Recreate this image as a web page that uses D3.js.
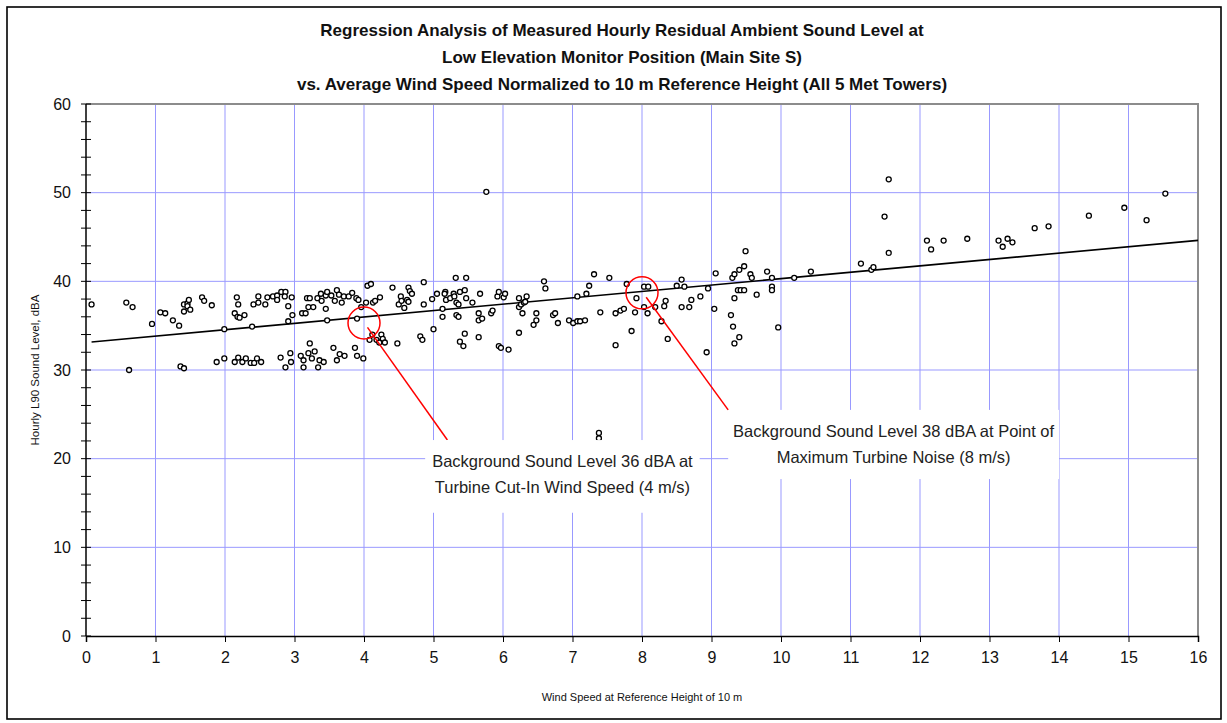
<!DOCTYPE html>
<html>
<head>
<meta charset="utf-8">
<script src="https://cdn.jsdelivr.net/npm/d3@7"></script>
<style>
body { margin: 0; background: #fff; }
svg { display: block; font-family: "Liberation Sans", Arial, sans-serif; }
</style>
</head>
<body>
<svg></svg>
<script>
"use strict";

var titleLines = [
  "Regression Analysis of Measured Hourly Residual Ambient Sound Level at",
  "Low Elevation Monitor Position (Main Site S)",
  "vs. Average Wind Speed Normalized to 10 m Reference Height (All 5 Met Towers)"
];
var xLabel = "Wind Speed at Reference Height of 10 m";
var yLabel = "Hourly L90 Sound Level, dBA";

var xTicks = d3.range(0, 17, 1);
var yTicks = [0, 10, 20, 30, 40, 50, 60];
var yMinorTicks = d3.range(0, 61, 2);

// [wind speed m/s, L90 dBA]
var readings = [
  [0.08,37.4],[0.58,37.6],[0.67,37.1],[0.62,30.0],[0.95,35.2],[1.07,36.5],[1.14,36.4],[1.25,35.6],
  [1.34,35.0],[1.36,30.4],[1.41,30.2],[1.41,36.6],[1.41,37.4],[1.46,37.5],[1.48,37.9],[1.46,37.2],
  [1.50,36.8],[1.67,38.2],[1.70,37.8],[1.81,37.3],[1.88,30.9],[1.99,31.3],[1.99,34.6],[2.14,36.4],
  [2.17,38.2],[2.19,37.4],[2.18,36.0],[2.21,35.9],[2.14,30.9],[2.19,31.4],[2.25,30.9],[2.28,36.2],
  [2.30,31.3],[2.37,30.8],[2.39,34.9],[2.41,37.4],[2.42,30.8],[2.46,31.3],[2.48,38.3],[2.48,37.6],
  [2.52,30.9],[2.58,37.4],[2.61,38.2],[2.69,38.3],[2.75,38.4],[2.75,37.9],[2.81,38.8],[2.87,38.8],
  [2.86,38.3],[2.91,37.2],[2.91,35.5],[2.97,36.2],[2.96,38.2],[2.80,31.4],[2.87,30.3],[2.94,31.9],
  [2.95,30.9],[3.11,36.4],[3.16,36.4],[3.18,38.1],[3.22,38.1],[3.20,37.1],[3.27,37.1],[3.09,31.6],
  [3.13,31.1],[3.13,30.3],[3.20,31.9],[3.22,33.0],[3.25,31.3],[3.29,32.1],[3.34,30.3],[3.36,31.1],
  [3.42,30.9],[3.33,38.1],[3.38,38.6],[3.39,37.8],[3.45,38.4],[3.47,38.8],[3.45,36.9],[3.47,35.6],
  [3.56,32.5],[3.53,38.4],[3.58,37.8],[3.61,39.0],[3.61,31.1],[3.64,38.5],[3.68,37.6],[3.65,31.8],
  [3.72,31.6],[3.71,38.3],[3.78,38.3],[3.83,38.7],[3.89,38.1],[3.87,32.5],[3.90,31.6],[3.92,37.9],
  [3.90,35.8],[3.96,37.1],[3.99,31.3],[4.03,37.6],[4.05,39.5],[4.10,39.7],[4.08,33.4],[4.13,37.6],
  [4.16,37.8],[4.12,34.0],[4.18,33.4],[4.23,38.2],[4.25,34.0],[4.27,33.5],[4.30,33.1],[4.22,33.1],
  [4.41,39.3],[4.48,33.0],[4.50,37.4],[4.53,38.3],[4.54,37.8],[4.58,37.0],[4.62,37.9],[4.64,39.3],
  [4.66,38.9],[4.69,38.6],[4.64,37.7],[4.81,33.8],[4.84,33.4],[4.86,39.9],[4.86,37.4],[5.00,34.6],
  [4.98,38.0],[5.05,38.6],
  [5.13,36.9],[5.13,36.0],[5.17,38.8],[5.16,38.6],[5.18,37.9],[5.24,38.1],[5.29,38.6],[5.30,38.3],
  [5.32,40.4],[5.33,37.6],[5.36,37.4],[5.33,36.2],[5.36,36.0],[5.38,38.8],[5.45,39.0],[5.47,40.4],
  [5.47,38.1],[5.45,34.1],[5.38,33.2],[5.43,32.7],[5.56,37.6],[5.65,36.4],[5.67,38.6],[5.65,35.6],
  [5.70,35.8],[5.65,33.7],[5.76,50.1],[5.83,36.4],[5.85,36.7],[5.92,38.3],[5.94,38.8],[6.01,38.2],
  [6.03,38.6],[5.94,32.7],[5.97,32.5],[6.08,32.3],[6.23,38.1],[6.23,37.1],[6.26,37.4],[6.28,36.4],
  [6.30,37.6],[6.32,37.7],[6.34,38.3],[6.23,34.2],[6.44,35.1],[6.48,35.6],[6.48,36.4],[6.59,40.0],
  [6.61,39.2],[6.72,36.2],[6.75,36.4],[6.79,35.3],[6.95,35.6],[7.01,35.3],[7.07,35.5],[7.11,35.5],
  [7.18,35.6],[7.07,38.3],[7.20,38.6],[7.24,39.5],[7.31,40.8],[7.40,36.5],[7.53,40.4],[7.62,36.4],
  [7.69,36.7],[7.74,36.9],[7.62,32.8],[7.85,34.4],[7.78,39.7],[7.92,38.1],[7.90,36.5],[8.03,39.4],
  [8.09,39.4],[8.03,37.1],[8.08,36.4],[8.19,37.1],[8.28,35.5],[8.32,37.2],[8.34,37.8],[8.37,33.5],
  [8.50,39.5],[8.57,40.2],[8.61,39.4],[8.57,37.1],[8.68,37.1],[8.71,37.9],[8.84,38.3],[8.93,32.0],
  [8.95,39.2],[9.04,36.9],[9.06,40.9],[9.28,36.2],[9.31,34.9],[9.33,33.0],[9.40,33.7],[9.33,38.1],
  [9.30,40.4],[9.33,40.8],[9.40,41.3],[9.38,39.0],[9.42,39.0],[9.47,39.0],[9.47,41.7],[9.49,43.4],
  [9.56,40.8],[9.58,40.4],[9.65,38.5],[9.80,41.1],[9.87,40.4],[9.87,39.4],[9.87,39.0],[9.96,34.8],
  [10.19,40.4],[7.38,22.9],[7.38,22.3],
  [10.43,41.1],[11.15,42.0],[11.30,41.3],[11.33,41.6],[11.49,47.3],[11.55,51.5],[11.55,43.2],
  [12.10,44.6],[12.16,43.6],[12.34,44.6],[12.68,44.8],[13.13,44.6],[13.19,43.9],[13.26,44.8],
  [13.33,44.4],[13.65,46.0],[13.85,46.2],[14.43,47.4],[14.94,48.3],[15.26,46.9],[15.53,49.9]
];

// linear fit: L90 = a + b * ws
var trendRange = [0.08, 16];
var trendCoef = [33.1, 0.72];

var notes = [
  { mark: [4, 35.3], from: [4.05, 34.8], to: [5.2, 22.1], box: [4.88, 22.1, 8.83, 13.9],
    text: ["Background Sound Level 36 dBA at", "Turbine Cut-In Wind Speed (4 m/s)"] },
  { mark: [8, 38.7], from: [8.06, 38.2], to: [9.24, 25.5], box: [9.24, 25.5, 14.0, 17.7],
    text: ["Background Sound Level 38 dBA at Point of", "Maximum Turbine Noise (8 m/s)"] }
];

var svg = d3.select("svg").attr("width", 1227).attr("height", 723);

var x = d3.scaleLinear().domain([0, 16]).range([86, 1198]);
var y = d3.scaleLinear().domain([0, 60]).range([636, 104]);

var grid = "#9999ff";

// outer frame
svg.append("rect").attr("x", 7).attr("y", 7).attr("width", 1214).attr("height", 712)
  .attr("fill", "none").attr("stroke", "#000").attr("stroke-width", 1.6);

// title
svg.append("g").selectAll("text").data(titleLines).enter().append("text")
  .attr("x", 622).attr("y", function (d, i) { return 36 + i * 27; })
  .attr("text-anchor", "middle").attr("font-weight", "bold").attr("font-size", 17)
  .attr("fill", "#111").text(function (d) { return d; });

// grid
svg.append("g").selectAll("line").data(xTicks.slice(1, -1)).enter().append("line")
  .attr("x1", x).attr("x2", x).attr("y1", y(60)).attr("y2", y(0))
  .attr("stroke", grid).attr("stroke-width", 1);
svg.append("g").selectAll("line").data(yTicks.slice(1, -1)).enter().append("line")
  .attr("y1", y).attr("y2", y).attr("x1", x(0)).attr("x2", x(16))
  .attr("stroke", grid).attr("stroke-width", 1);

// plot frame top/right
svg.append("path")
  .attr("d", "M" + x(0) + "," + y(60) + "H" + x(16) + "V" + y(0))
  .attr("fill", "none").attr("stroke", "#8c8c8c").attr("stroke-width", 2);

// x axis
var xAxis = svg.append("g").attr("transform", "translate(0," + y(0) + ")")
  .call(d3.axisBottom(x).tickValues(xTicks).tickSize(6).tickPadding(10).tickFormat(d3.format("d")));
xAxis.select(".domain").attr("stroke", "#000").attr("stroke-width", 1.5);
xAxis.selectAll("text").attr("font-size", 16).attr("font-family", "Liberation Sans, Arial, sans-serif").attr("fill", "#111");

// y axis (ticks straddle the line)
var yAxis = svg.append("g").attr("transform", "translate(" + x(0) + ",0)");
yAxis.selectAll("line.minor").data(yMinorTicks).enter().append("line")
  .attr("class", "minor").attr("x1", -5).attr("x2", 5).attr("y1", y).attr("y2", y)
  .attr("stroke", "#000").attr("stroke-width", 1);
yAxis.append("line").attr("y1", y(0)).attr("y2", y(60)).attr("stroke", "#000").attr("stroke-width", 1.5);
yAxis.selectAll("text").data(yTicks).enter().append("text")
  .attr("x", -15).attr("y", y).attr("dy", "0.35em").attr("text-anchor", "end")
  .attr("font-size", 16).attr("fill", "#111").text(function (d) { return d; });

// axis titles
svg.append("text").attr("x", x(8)).attr("y", 701).attr("text-anchor", "middle")
  .attr("font-size", 11).attr("fill", "#111").text(xLabel);
svg.append("text").attr("transform", "translate(39," + y(30) + ") rotate(-90)")
  .attr("text-anchor", "middle").attr("font-size", 11.5).attr("fill", "#111").text(yLabel);

// trend line
svg.append("line")
  .attr("x1", x(trendRange[0])).attr("y1", y(trendCoef[0] + trendCoef[1] * trendRange[0]))
  .attr("x2", x(trendRange[1])).attr("y2", y(trendCoef[0] + trendCoef[1] * trendRange[1]))
  .attr("stroke", "#000").attr("stroke-width", 1.6);

// readings
svg.append("g").selectAll("circle").data(readings).enter().append("circle")
  .attr("cx", function (d) { return x(d[0]); })
  .attr("cy", function (d) { return y(d[1]); })
  .attr("r", 2.5).attr("fill", "#fff").attr("stroke", "#000").attr("stroke-width", 1.3);

// callouts
var note = svg.append("g").selectAll("g").data(notes).enter().append("g");
note.append("circle")
  .attr("cx", function (d) { return x(d.mark[0]); }).attr("cy", function (d) { return y(d.mark[1]); })
  .attr("r", 16).attr("fill", "none").attr("stroke", "#f00").attr("stroke-width", 1.5);
note.append("line")
  .attr("x1", function (d) { return x(d.from[0]); }).attr("y1", function (d) { return y(d.from[1]); })
  .attr("x2", function (d) { return x(d.to[0]); }).attr("y2", function (d) { return y(d.to[1]); })
  .attr("stroke", "#f00").attr("stroke-width", 1.5);
note.append("rect")
  .attr("x", function (d) { return x(d.box[0]); }).attr("y", function (d) { return y(d.box[1]); })
  .attr("width", function (d) { return x(d.box[2]) - x(d.box[0]); })
  .attr("height", function (d) { return y(d.box[3]) - y(d.box[1]); })
  .attr("fill", "#fff");
note.each(function (d) {
  var cx = (x(d.box[0]) + x(d.box[2])) / 2;
  d3.select(this).selectAll("text").data(d.text).enter().append("text")
    .attr("x", cx).attr("y", function (t, i) { return y(d.box[1]) + 27 + i * 26; })
    .attr("text-anchor", "middle").attr("font-size", 16.5).attr("fill", "#222")
    .text(function (t) { return t; });
});
</script>
</body>
</html>
